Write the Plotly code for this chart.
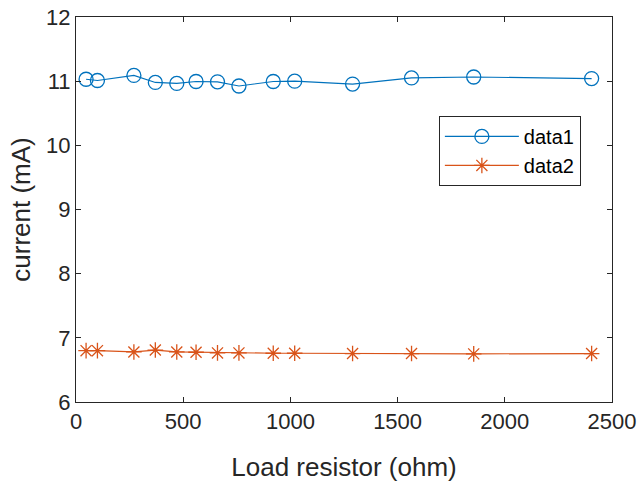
import plotly.graph_objects as go

load_ohm = [47, 100, 270, 370, 470, 560, 660, 760, 920, 1020, 1290, 1565, 1855, 2405]
data1 = [11.03, 11.01, 11.09, 10.98, 10.965, 10.995, 10.99, 10.925, 10.995, 11.0, 10.955, 11.05, 11.065, 11.04]
data2 = [6.80, 6.80, 6.78, 6.81, 6.78, 6.775, 6.765, 6.765, 6.76, 6.76, 6.755, 6.755, 6.75, 6.755]

x_ticks = [0, 500, 1000, 1500, 2000, 2500]
y_ticks = [6, 7, 8, 9, 10, 11, 12]

axis_color = "#262626"
font_family = "Arial, Liberation Sans, Helvetica, sans-serif"

fig = go.Figure()
fig.add_trace(go.Scatter(
    x=load_ohm, y=data1, name="data1", mode="lines+markers",
    line=dict(color="#0072BD", width=1.2),
    marker=dict(symbol="circle-open", size=14, color="#0072BD", line=dict(width=1.3)),
))
fig.add_trace(go.Scatter(
    x=load_ohm, y=data2, name="data2", mode="lines+markers",
    line=dict(color="#D95319", width=1.2),
    marker=dict(symbol="asterisk-open", size=13, color="#D95319", line=dict(width=1.3, color="#D95319")),
))

axis_common = dict(
    showgrid=False, zeroline=False, showline=True, linecolor=axis_color, linewidth=1,
    mirror="ticks", ticks="inside", ticklen=5, tickcolor=axis_color, tickwidth=1,
    tickfont=dict(size=22, color=axis_color, family=font_family), automargin=False,
)

fig.update_xaxes(range=[0, 2500], tickvals=x_ticks,
                 title=dict(text="Load resistor (ohm)", font=dict(size=26, color=axis_color, family=font_family), standoff=24),
                 **axis_common)
fig.update_yaxes(range=[6, 12], tickvals=y_ticks,
                 title=dict(text="current (mA)", font=dict(size=26, color=axis_color, family=font_family), standoff=8),
                 **axis_common)

fig.update_layout(
    width=639, height=482,
    margin=dict(l=76, r=27, t=17, b=80),
    plot_bgcolor="white", paper_bgcolor="white",
    font=dict(family=font_family, color=axis_color),
    legend=dict(x=0.677, y=0.743, xanchor="left", yanchor="top", itemwidth=74,
                bordercolor=axis_color, borderwidth=1, bgcolor="white",
                font=dict(size=20, color="black", family=font_family)),
)

fig.write_html("out.html")
